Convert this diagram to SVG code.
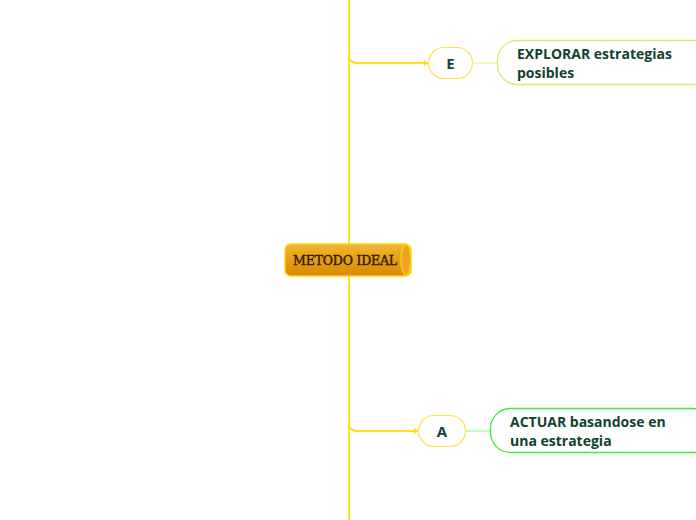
<svg xmlns="http://www.w3.org/2000/svg" width="696" height="520" viewBox="0 0 696 520">
<defs>
<linearGradient id="cyl" x1="0" y1="0" x2="0" y2="1">
<stop offset="0" stop-color="#f3b73a"/>
<stop offset="0.5" stop-color="#e89d0e"/>
<stop offset="1" stop-color="#d98a00"/>
</linearGradient>
</defs>
<style>
.trunk{stroke:#ffe01a;stroke-width:2;fill:none}
.leaf{stroke-width:1;fill:none}
.letter{fill:#fff;stroke:#ffe34d;stroke-width:1.2}
.lt{font-family:"Open Sans","Noto Sans",sans-serif;font-weight:bold;font-size:14px;fill:#0f4330}
.big{font-size:15px}
.box{fill:#fff;stroke-width:1.3}
</style>
<g id="connectors">
<path class="trunk" d="M349 0 V520"/>
<path class="trunk" d="M349 55 Q349 63 357 63 H428" stroke-width="1.5"/>
<path d="M424 60 L429 63 L424 66 Z" fill="#ffe01a"/>
<path class="trunk" d="M349 423 Q349 431 357 431 H418" stroke-width="1.5"/>
<path d="M414 428 L419 431 L414 434 Z" fill="#ffe01a"/>
<path class="leaf" d="M473 63 H497" stroke="#d8f58a"/>
<path class="leaf" d="M466 431 H490" stroke="#8ef28e"/>
</g>
<g id="central">
<rect x="285" y="244" width="126" height="32" rx="6" fill="url(#cyl)" stroke="#ffd21a" stroke-width="1.5"/>
<ellipse cx="406" cy="260" rx="5" ry="15" fill="#eda51f" stroke="#ffd21a" stroke-width="1.2"/>
<text x="345" y="265" text-anchor="middle" font-family="'DejaVu Serif','Liberation Serif',serif" font-size="12.5" letter-spacing="-0.2" fill="#2a1a00" stroke="#2a1a00" stroke-width="0.4">METODO IDEAL</text>
</g>
<g id="nodeE">
<rect class="letter" x="428.5" y="47.5" width="44" height="31" rx="15.5"/>
<text class="lt big" x="450.5" y="68.5" text-anchor="middle">E</text>
</g>
<g id="nodeExplorar">
<rect class="box" x="497.5" y="40.5" width="215" height="44" rx="20" stroke="#c8f26a"/>
<text class="lt" x="517" y="59">EXPLORAR estrategias</text>
<text class="lt" x="517" y="78">posibles</text>
</g>
<g id="nodeA">
<rect class="letter" x="418.5" y="415.5" width="47" height="31" rx="15.5"/>
<text class="lt big" x="442" y="436.5" text-anchor="middle">A</text>
</g>
<g id="nodeActuar">
<rect class="box" x="490.5" y="408.5" width="222" height="44" rx="20" stroke="#3ee83e"/>
<text class="lt" x="510" y="427">ACTUAR basandose en</text>
<text class="lt" x="510" y="446">una estrategia</text>
</g>
</svg>
